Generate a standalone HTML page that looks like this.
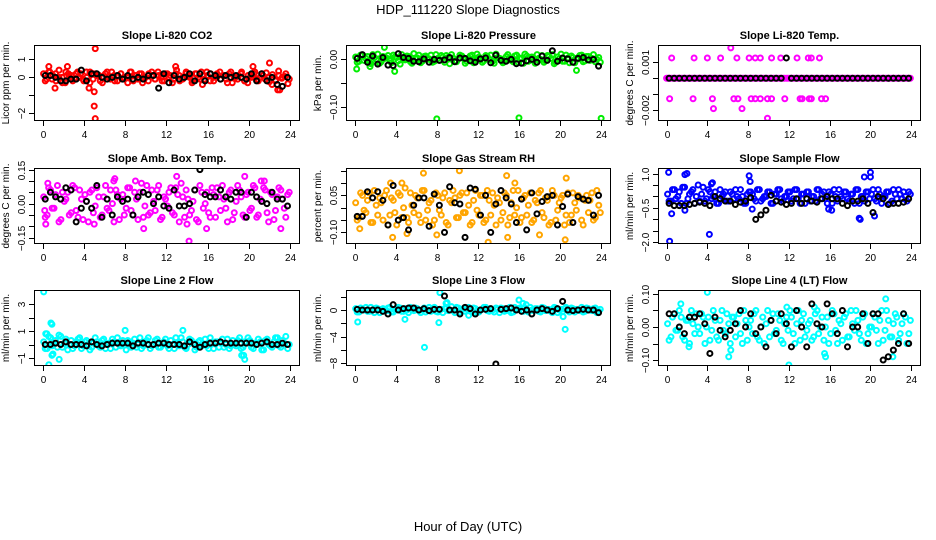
<!DOCTYPE html>
<html><head><meta charset="utf-8"><title>HDP_111220 Slope Diagnostics</title>
<style>
html,body{margin:0;padding:0;background:#fff;}
svg{display:block;font-family:"Liberation Sans",Arial,sans-serif;}
</style></head>
<body>
<svg id="chart" width="936" height="540" viewBox="0 0 936 540" xmlns="http://www.w3.org/2000/svg">
<rect width="936" height="540" fill="#fff"/>
<text x="468" y="14" text-anchor="middle" font-size="13">HDP_111220  Slope Diagnostics</text>
<text x="468" y="531" text-anchor="middle" font-size="13">Hour of Day (UTC)</text>
</svg>
<script>
const xTicks = [0,4,8,12,16,20,24];

// ---- Panel 1: CO2 ----
const co2Col = [0.2,-0.1,0.3,0.1,-0.2,0.4,0.0,-0.3,0.2,0.1,-0.1,0.3,0.2,-0.2,0.0,0.3,-0.1,0.2,0.1,-0.3,0.2,0.0,0.3,-0.2,0.1,0.2,-0.1,0.0,0.3,-0.2,0.1,0.2,-0.3,0.0,0.2,0.1,-0.1,0.3,0.0,-0.2,0.2,0.1,-0.1,0.4,-0.2,0.0,0.2,0.1,-0.3,0.2,0.0,0.3,-0.1,0.1,0.2,-0.2,0.0,0.3,0.1,-0.1,0.2,-0.3,0.0,0.1,0.3,-0.2,-0.3,0.1,0.2,-0.1,0.0,0.1,0.25,-0.25,0.15,-0.15,0.35,-0.05,0.05,-0.35];
const co2Col2 = [-0.2,0.3,-0.1,0.2,0.0,-0.3,0.3,0.1,-0.2,0.2,0.0,-0.1,0.3,-0.3,0.2,0.1,-0.2,0.0,0.3,-0.1,0.1,-0.2,0.2,0.0,-0.3,0.3,0.1,-0.1,0.2,0.0,-0.2,0.3,-0.1,0.1,-0.2,0.2,0.0,-0.3,0.2,0.1,-0.1,0.3,0.0,-0.2,0.2,-0.1,0.1,0.3,-0.2,0.0,0.2,-0.1,0.1,-0.3,0.3,0.0,-0.1,0.2,-0.2,0.1,0.0,0.3,-0.2,0.2,-0.1,0.0,-0.4,-0.2,0.1,0.0,0.2,-0.1];
const co2OutX = [5.1,5.0,5.0,5.1,2.4,0.6,12.9,20.4,22.0,1.2,4.5,23.0,22.8,15.5];
const co2OutY = [1.6,-0.8,-1.6,-2.3,0.6,0.6,0.6,0.6,0.8,-0.6,-0.6,-0.7,-0.7,-0.4];
const co2Blk = [0.1,0.1,0.0,-0.2,-0.2,-0.1,-0.1,0.4,-0.2,0.2,0.2,0.0,-0.1,0.0,0.1,-0.1,0.1,-0.1,0.0,-0.1,0.1,0.1,-0.6,0.2,-0.3,0.1,-0.1,0.0,0.2,-0.2,0.2,-0.2,0.2,0.1,-0.1,0.1,0.0,0.1,0.0,-0.1,0.2,-0.2,0.2,-0.2,0.0,-0.4,-0.5,0.0];

// ---- Panel 2: Pressure ----
const presCol = [0.005,-0.004,0.008,0.002,-0.006,0.010,0.000,-0.008,0.006,0.003,-0.002,0.009,0.004,-0.010,0.001,0.007,-0.005,0.012,0.003,-0.007,0.006,0.000,0.009,-0.004,0.002,0.008,-0.006,0.004,0.010,-0.003,0.001,0.007,-0.008,0.003,0.009,-0.002,0.005,-0.006,0.008,0.000,-0.004,0.011,0.002,-0.007,0.006,0.003,-0.005,0.009,0.001,-0.008,0.007,0.004,-0.003,0.010,0.000,-0.006,0.008,0.002,-0.009,0.005,0.011,-0.004,0.003,0.007,-0.007,0.001,0.009,-0.003,0.006,0.002,-0.005,0.004];
const presCol2 = [-0.006,0.009,-0.002,0.006,-0.009,0.004,0.011,-0.005,0.002,0.008,-0.007,0.005,-0.003,0.010,-0.001,0.006,-0.008,0.003,0.009,-0.004,0.007,0.001,-0.006,0.010,-0.002,0.005,0.008,-0.009,0.003,-0.005,0.009,0.002,-0.004,0.007,-0.007,0.011,0.000,-0.003,0.006,0.009,-0.008,0.004,0.001,-0.005,0.010,-0.002,0.007,-0.006,0.003,0.011,-0.004,0.005,-0.008,0.002,0.008,-0.003,0.006,0.010,-0.006,0.001,-0.004,0.009,-0.007,0.004,0.002,0.008,-0.005,0.006,-0.002,0.010,0.000,-0.006];
const presOutX = [8.0,16.0,24.0,2.9,3.9,0.2,21.6,1.5];
const presOutY = [-0.124,-0.122,-0.123,0.025,-0.025,-0.02,-0.023,-0.015];
const presBlk = [0.002,0.010,-0.006,0.007,-0.010,0.004,-0.012,-0.013,0.012,0.004,0.002,-0.004,-0.005,0.001,-0.006,0.000,-0.002,-0.001,0.004,-0.005,0.003,0.002,-0.003,-0.006,0.001,0.003,-0.007,0.009,-0.002,-0.004,0.000,-0.009,-0.008,-0.003,0.000,-0.006,0.007,-0.002,0.018,-0.004,0.003,0.001,-0.006,0.002,0.004,-0.001,0.000,-0.014];

// ---- Panel 3: Li-820 Temp ----
const tmpCol = [0,0,0,0,0,0,0,0,0,0,0,0,0,0,0,0,0,0,0,0,0,0,0,0,0,0,0,0,0,0,0,0,0,0,0,0,0,0,0,0,0,0,0,0,0,0,0,0,0,0,0,0,0,0,0,0,0,0,0,0,0,0,0,0,0,0,0,0,0,0,0,0];
const tmpOutX = [0.5,2.7,4.0,5.3,6.9,8.1,8.7,9.2,10.3,11.2,12.8,13.9,14.2,15.0,6.3,0.3,2.6,4.5,6.6,7.0,8.3,8.7,9.2,9.9,10.3,11.6,13.1,13.3,14.0,14.2,15.2,15.6,4.6,7.4,9.9,0.0];
const tmpOutY = [0.00127,0.00127,0.00127,0.00127,0.00127,0.00127,0.00127,0.00127,0.00127,0.00127,0.00127,0.00127,0.00127,0.00127,0.0019,-0.00128,-0.00128,-0.00128,-0.00128,-0.00128,-0.00128,-0.00128,-0.00128,-0.00128,-0.00128,-0.00128,-0.00128,-0.00128,-0.00128,-0.00128,-0.00128,-0.00128,-0.0019,-0.0019,-0.0025,0];
const tmpBlk = [0,0,0,0,0,0,0,0,0,0,0,0,0,0,0,0,0,0,0,0,0,0,0,0.00127,0,0,0,0,0,0,0,0,0,0,0,0,0,0,0,0,0,0,0,0,0,0,0,0];

// ---- Panel 4: Amb Box Temp ----
const ambCol = [0.03,-0.05,0.06,-0.02,0.08,-0.07,0.01,0.05,-0.04,0.07,-0.06,0.02,0.04,-0.08,0.06,-0.01,0.03,-0.05,0.08,-0.03,0.00,0.06,-0.07,0.04,-0.02,0.07,-0.05,0.02,0.05,-0.06,0.08,-0.04,0.01,0.06,-0.07,0.03,-0.01,0.07,-0.05,0.04,0.09,-0.06,0.02,-0.03,0.06,-0.08,0.05,0.00,-0.04,0.07,-0.06,0.03,0.08,-0.02,0.05,-0.07,0.01,0.06,-0.05,0.04,-0.03,0.08,-0.06,0.02,0.07,-0.04,0.05,-0.07,0.03,0.06,-0.02,0.04];
const ambCol2 = [-0.06,0.07,-0.02,0.04,-0.08,0.05,0.02,-0.05,0.08,-0.03,0.06,-0.07,0.01,0.05,-0.04,0.07,-0.06,0.03,-0.02,0.06,-0.08,0.04,0.02,-0.05,0.07,-0.03,0.05,-0.07,0.09,-0.01,-0.05,0.06,-0.03,0.08,-0.06,0.02,0.05,-0.04,0.07,-0.08,0.03,0.06,-0.05,0.01,-0.07,0.08,-0.02,0.05,-0.06,0.04,0.07,-0.03,0.02,-0.08,0.06,-0.04,0.08,0.03,-0.06,0.05,-0.02,0.07,-0.05,0.01,0.06,-0.08,0.04,-0.03,0.07,0.02,-0.06,0.05];
const ambOutX = [0.5,6.9,7.0,9.0,13.0,19.6,21.2,21.5,0.3,15.9,23.1,9.8,5.0,14.0,14.2,0.2];
const ambOutY = [0.09,0.10,0.11,0.10,0.12,0.12,0.10,0.10,-0.09,-0.11,-0.11,-0.11,-0.09,-0.09,-0.165,-0.03];
const ambBlk = [0.02,0.05,0.03,0.02,0.07,0.06,-0.08,-0.02,0.01,-0.02,0.08,-0.06,0.02,-0.05,0.03,0.01,0.02,-0.05,0.03,0.05,0.04,-0.00,0.03,-0.01,-0.02,0.06,-0.01,-0.01,0.00,0.06,0.15,0.04,0.03,0.03,0.06,0.03,0.02,0.05,0.05,-0.06,0.05,0.03,0.01,0.00,0.05,0.02,0.02,-0.01];

// ---- Panel 5: Gas Stream RH ----
const rhCol = [0.02,-0.04,0.05,-0.02,0.06,-0.06,0.01,0.04,-0.05,0.07,-0.03,0.03,-0.07,0.05,0.00,-0.04,0.06,-0.02,0.04,-0.06,0.07,-0.01,0.03,-0.05,0.05,-0.03,0.06,-0.07,0.02,0.04,-0.04,0.06,-0.02,0.01,-0.06,0.07,-0.03,0.05,-0.05,0.03,0.06,-0.07,0.02,-0.02,0.05,-0.04,0.07,0.00,-0.06,0.04,-0.03,0.06,-0.05,0.02,0.07,-0.04,0.03,-0.06,0.05,-0.01,0.04,-0.07,0.06,-0.03,0.02,0.05,-0.05,0.03,-0.02,0.06,-0.04,0.01];
const rhCol2 = [-0.05,0.06,-0.01,0.03,-0.06,0.07,-0.03,0.02,0.05,-0.07,0.04,-0.02,0.06,-0.04,0.08,-0.06,0.01,0.05,-0.03,0.07,-0.05,0.02,-0.07,0.06,-0.01,0.04,-0.06,0.03,0.07,-0.04,0.05,-0.02,0.06,-0.07,0.03,-0.01,0.05,-0.06,0.07,-0.03,0.01,0.04,-0.05,0.06,-0.07,0.02,-0.03,0.07,-0.04,0.05,0.01,-0.06,0.03,0.06,-0.02,0.04,-0.07,0.07,-0.05,0.02,0.05,-0.03,-0.06,0.06,-0.01,0.04,-0.07,0.05,0.03,-0.05,0.07,-0.02];
const rhOutX = [10.2,6.7,14.8,20.6,3.5,13.0,20.5,14.9,3.7,0.5,18.0,5.1,8.0,4.6,15.6];
const rhOutY = [0.15,0.14,0.13,0.12,0.10,-0.14,-0.13,-0.12,-0.12,-0.085,-0.11,-0.105,-0.11,0.10,0.10];
const rhBlk = [-0.035,-0.035,0.065,0.04,0.065,0.03,-0.07,0.09,-0.05,-0.04,-0.09,0.01,0.04,0.04,-0.075,0.055,0.01,-0.1,0.085,0.02,0.015,-0.12,0.08,0.075,-0.03,0.05,-0.1,0.015,0.07,0.04,0.015,-0.06,0.035,-0.09,0.06,-0.025,0.025,0.045,0.05,-0.07,0.005,0.055,-0.06,0.045,0.035,0.03,-0.03,0.05];

// ---- Panel 6: Sample Flow ----
const sfCol = [0.1,-0.2,0.3,0.0,-0.3,0.4,-0.1,0.2,-0.3,0.5,0.1,-0.2,0.3,-0.1,0.2,-0.3,0.0,0.2,-0.2,0.1,0.3,-0.1,0.0,-0.3,0.2,0.1,-0.2,0.3,-0.1,0.0,0.2,-0.3,0.1,0.3,-0.2,0.0,0.2,-0.1,0.3,-0.3,0.1,0.2,-0.2,0.0,0.3,-0.1,0.2,-0.3,0.1,0.3,-0.2,0.0,0.2,-0.1,0.1,-0.3,0.3,0.0,-0.2,0.2,0.1,-0.1,0.3,-0.3,0.0,0.2,-0.2,0.1,0.3,-0.1,0.0,0.2];
const sfCol2 = [-0.2,0.3,-0.1,0.2,0.4,-0.3,0.1,0.3,0.0,-0.2,0.4,-0.1,0.2,0.0,-0.3,0.3,0.1,-0.2,0.2,-0.1,0.0,0.3,-0.3,0.1,0.2,-0.1,0.3,-0.2,0.0,0.2,-0.3,0.1,0.3,-0.1,0.0,0.2,-0.2,0.3,-0.1,0.1,-0.3,0.2,0.0,-0.2,0.3,0.1,-0.1,0.2,-0.3,0.0,0.3,-0.1,0.2,-0.2,0.1,0.3,-0.3,0.0,0.2,-0.1,0.3,-0.2,0.1,0.0,0.2,-0.3,0.3,-0.1,0.1,0.2,-0.2,0.1];
const sfOutX = [0.2,2.0,1.8,20.0,20.0,19.4,8.1,0.3,0.5,4.2,18.9,19.0,20.4,8.4,1.8,15.9,16.2,4.5,4.4,8.2];
const sfOutY = [1.05,1.0,0.95,1.05,0.85,0.85,0.9,-1.95,-0.75,-1.65,-0.95,-1.0,-0.85,-0.55,-0.6,-0.55,-0.6,0.6,0.55,0.65];
const sfBlk = [-0.3,-0.4,-0.4,-0.4,-0.35,-0.3,-0.25,-0.3,-0.4,0.0,-0.1,-0.2,-0.2,-0.35,-0.25,-0.2,-0.05,-1.0,-0.8,-0.6,0.05,-0.2,-0.25,-0.35,-0.3,-0.1,-0.3,-0.1,-0.2,-0.25,-0.1,0.0,-0.1,-0.1,-0.3,-0.4,-0.2,-0.2,-0.1,-0.3,-0.7,0.0,-0.1,-0.35,-0.3,-0.3,-0.25,-0.1];

// ---- Panel 7: Line 2 Flow ----
const l2Col = [0.2,-0.3,0.5,0.0,-0.2,0.6,0.1,-0.4,0.3,-0.1,0.4,-0.3,0.2,0.0,-0.2,0.5,-0.1,0.3,-0.3,0.1,0.4,-0.2,0.0,0.3,-0.4,0.2,0.1,-0.2,0.5,-0.1,0.3,-0.3,0.0,0.4,-0.2,0.2,-0.1,0.3,-0.3,0.1,0.5,-0.2,0.0,0.3,-0.4,0.2,-0.1,0.4,-0.3,0.1,0.2,-0.2,0.4,0.0,-0.3,0.3,-0.1,0.5,-0.2,0.1,0.3,-0.3,0.0,0.2,-0.4,0.4,-0.1,0.2,0.5,-0.2,0.1,-0.3];
const l2Col2 = [-0.3,0.6,-0.1,0.3,0.7,-0.2,0.4,0.0,-0.3,0.2,0.5,-0.1,0.3,-0.4,0.1,0.2,-0.2,0.4,0.0,-0.3,0.2,0.5,-0.1,0.1,0.3,-0.2,0.4,0.0,-0.3,0.2,0.5,-0.1,0.3,-0.2,0.1,0.4,-0.3,0.0,0.5,-0.1,0.2,-0.3,0.4,0.1,-0.2,0.3,0.0,-0.1,0.5,-0.3,0.2,0.1,-0.2,0.4,-0.1,0.0,0.3,-0.3,0.2,0.5,-0.2,0.1,0.4,-0.4,0.3,0.0,-0.2,0.5,-0.1,0.3,0.6,0.0];
const l2OutX = [0.1,0.8,0.9,0.6,1.6,1.0,0.9,8.0,13.6,19.3,19.6,19.5,0.3,0.4];
const l2OutY = [3.9,1.6,1.5,-1.5,-1.1,-0.7,-0.8,1.05,1.05,-0.8,-1.1,-0.8,0.8,0.8];
const l2Blk = [0.0,0.0,0.1,0.0,0.2,0.0,0.0,0.0,-0.1,0.2,0.0,-0.1,0.0,0.1,0.1,0.1,0.1,-0.1,0.1,0.1,0.0,0.0,0.1,0.1,0.0,0.0,0.0,-0.1,0.2,0.0,-0.2,0.0,0.1,0.1,0.2,0.1,0.1,0.1,0.1,0.1,0.1,0.0,0.1,0.2,0.0,0.0,0.1,0.0];

// ---- Panel 8: Line 3 Flow ----
const l3Col = [0.2,-0.3,0.1,0.4,-0.2,0.0,0.3,-0.4,0.2,-0.1,0.4,-0.3,0.1,0.3,-0.2,0.0,0.4,-0.1,0.2,-0.4,0.3,0.0,-0.2,0.4,-0.3,0.1,0.2,-0.1,0.5,-0.4,0.3,0.0,-0.2,0.4,-0.1,0.2,-0.3,0.1,0.4,-0.2,0.0,0.3,-0.4,0.2,-0.1,0.4,-0.3,0.1,0.3,-0.2,0.0,0.4,-0.1,0.2,-0.3,0.3,0.0,-0.2,0.4,-0.4,0.1,0.2,-0.1,0.3,-0.3,0.0,0.4,-0.2,0.2,-0.1,0.3,-0.2];
const l3Col2 = [-0.3,0.3,0.0,-0.2,0.4,-0.4,0.2,0.1,-0.1,0.3,-0.3,0.0,0.4,-0.2,0.2,-0.4,0.1,0.3,-0.1,0.0,-0.3,0.4,0.2,-0.2,0.1,-0.4,0.3,0.0,-0.1,0.4,-0.3,0.2,0.1,-0.2,0.3,-0.4,0.0,0.4,-0.1,0.2,-0.3,0.1,0.3,-0.2,0.0,-0.4,0.4,0.2,-0.1,0.3,-0.3,0.0,0.2,-0.2,0.4,-0.1,0.1,-0.4,0.3,0.0,-0.2,0.4,-0.3,0.2,0.1,-0.1,-0.3,0.3,0.0,0.2,-0.4,0.1];
const l3OutX = [8.3,8.9,16.0,16.4,0.3,4.9,6.8,8.2,20.3,20.5,11.1,9.0,16.7];
const l3OutY = [2.6,1.0,1.5,1.0,-1.8,-1.4,-5.6,-1.9,-1.0,-2.9,-0.8,1.1,0.8];
const l3Blk = [0.1,0.0,0.0,0.0,0.0,-0.2,-0.6,0.8,0.0,0.2,0.3,0.3,0.0,0.2,-0.1,0.1,0.1,2.1,0.0,0.0,-0.6,0.4,0.2,-0.6,0.0,0.1,0.2,-8.1,0.1,0.2,0.3,0.0,-0.2,0.0,-0.6,0.0,0.2,0.0,-0.2,0.2,1.3,0.0,-0.1,0.0,0.1,0.0,0.0,-0.4];

// ---- Panel 9: Line 4 (LT) Flow ----
const l4Col = [0.01,-0.03,0.04,-0.01,0.03,-0.04,0.02,0.05,-0.02,0.00,0.04,-0.05,0.03,-0.01,0.02,-0.04,0.05,-0.02,0.01,0.03,-0.03,0.04,-0.05,0.02,0.00,-0.02,0.05,-0.04,0.03,0.01,-0.03,0.04,-0.01,0.02,-0.05,0.03,0.05,-0.02,0.01,-0.04,0.04,-0.01,0.02,-0.03,0.05,0.00,-0.04,0.03,-0.02,0.04,-0.05,0.01,0.03,-0.03,0.05,-0.01,0.02,-0.04,0.04,-0.02,0.00,0.03,-0.05,0.05,-0.01,0.02,-0.03,0.04,-0.04,0.01,0.03,-0.02];
const l4Col2 = [-0.04,0.03,-0.01,0.05,-0.03,0.02,-0.05,0.01,0.04,-0.02,0.03,0.00,-0.04,0.05,-0.03,0.02,-0.01,0.04,-0.05,0.03,0.01,-0.02,0.05,-0.04,0.02,0.04,-0.03,0.00,-0.05,0.05,0.02,-0.02,0.04,-0.04,0.01,-0.01,0.03,-0.05,0.05,0.02,-0.03,0.01,-0.04,0.04,-0.02,0.03,0.00,-0.05,0.05,-0.01,0.02,-0.04,0.04,-0.03,0.01,0.05,-0.02,0.03,-0.05,0.00,0.04,-0.01,0.02,-0.04,0.05,-0.03,0.01,0.03,-0.02,0.04,-0.05,0.02];
const l4OutX = [4.0,21.5,1.4,12.0,6.1,15.6,22.2,2.2,14.5,6.3,15.5,11.8];
const l4OutY = [0.105,0.085,0.07,-0.115,-0.09,-0.09,-0.09,-0.06,0.06,-0.07,-0.08,0.06];
const l4Blk = [0.04,0.04,0.00,-0.02,0.03,0.03,0.04,0.01,-0.08,0.03,-0.01,-0.03,-0.01,0.01,0.05,0.00,0.04,-0.02,0.00,-0.06,0.02,-0.02,0.04,0.01,-0.06,0.05,0.00,-0.06,0.07,0.01,0.00,0.07,0.04,-0.02,0.05,-0.06,0.00,0.00,0.04,-0.05,0.04,0.04,-0.10,-0.09,-0.07,-0.05,0.04,-0.05];

const panels = [
 {name:'co2',title:'Slope Li-820 CO2',ylab:'Licor ppm per min.',col:0,row:0,ymin:-2.43,ymax:1.8,ticks:[-2,-1,0,1],labels:['\u22122','','0','1'],color:'#ff0000',c1:co2Col,c2:co2Col2,ox:co2OutX,oy:co2OutY,blk:co2Blk},
 {name:'pressure',title:'Slope Li-820 Pressure',ylab:'kPa per min.',col:1,row:0,ymin:-0.1285,ymax:0.030,ticks:[-0.10,-0.05,0],labels:['\u22120.10','','0.00'],color:'#00ee00',c1:presCol,c2:presCol2,ox:presOutX,oy:presOutY,blk:presBlk},
 {name:'li820-temp',title:'Slope Li-820 Temp.',ylab:'degrees C per min.',col:2,row:0,ymin:-0.00267,ymax:0.00208,ticks:[-0.002,-0.001,0,0.001],labels:['\u22120.002','','','0.001'],color:'#ff00ff',c1:tmpCol,c2:tmpCol,ox:tmpOutX,oy:tmpOutY,blk:tmpBlk},
 {name:'amb-temp',title:'Slope Amb. Box Temp.',ylab:'degrees C per min.',col:0,row:1,ymin:-0.1775,ymax:0.157,ticks:[-0.15,-0.10,-0.05,0,0.05,0.10,0.15],labels:['\u22120.15','','','0.00','','','0.15'],color:'#ff00ff',c1:ambCol,c2:ambCol2,ox:ambOutX,oy:ambOutY,blk:ambBlk},
 {name:'gas-rh',title:'Slope Gas Stream RH',ylab:'percent per min.',col:1,row:1,ymin:-0.147,ymax:0.161,ticks:[-0.10,-0.05,0,0.05,0.10,0.15],labels:['\u22120.10','','','0.05','',''],color:'#ffa500',c1:rhCol,c2:rhCol2,ox:rhOutX,oy:rhOutY,blk:rhBlk},
 {name:'sample-flow',title:'Slope Sample Flow',ylab:'ml/min per min.',col:2,row:1,ymin:-2.07,ymax:1.24,ticks:[-2,-1.5,-1,-0.5,0,0.5,1],labels:['\u22122.0','','','\u22120.5','','','1.0'],color:'#0000ff',c1:sfCol,c2:sfCol2,ox:sfOutX,oy:sfOutY,blk:sfBlk},
 {name:'line2-flow',title:'Slope Line 2 Flow',ylab:'ml/min per min.',col:0,row:2,ymin:-1.59,ymax:4.04,ticks:[-1,0,1,2,3],labels:['\u22121','','1','','3'],color:'#00ffff',c1:l2Col,c2:l2Col2,ox:l2OutX,oy:l2OutY,blk:l2Blk},
 {name:'line3-flow',title:'Slope Line 3 Flow',ylab:'ml/min per min.',col:1,row:2,ymin:-8.4,ymax:3.0,ticks:[-8,-6,-4,-2,0,2],labels:['\u22128','','\u22124','','0',''],color:'#00ffff',c1:l3Col,c2:l3Col2,ox:l3OutX,oy:l3OutY,blk:l3Blk},
 {name:'line4-flow',title:'Slope Line 4 (LT) Flow',ylab:'ml/min per min.',col:2,row:2,ymin:-0.118,ymax:0.112,ticks:[-0.10,-0.05,0,0.05,0.10],labels:['\u22120.10','','0.00','','0.10'],color:'#00ffff',c1:l4Col,c2:l4Col2,ox:l4OutX,oy:l4OutY,blk:l4Blk}
];

const colX0=[34,346,658], colX1=[300,611,921];
const rowY0=[45,168,290], rowY1=[121,244,366];
const XMIN=-0.84, XMAX=24.96;
const NS='http://www.w3.org/2000/svg';
const svg=document.getElementById('chart');
function mk(tag,attrs,parent){const e=document.createElementNS(NS,tag);for(const k in attrs)e.setAttribute(k,attrs[k]);(parent||svg).appendChild(e);return e;}

panels.forEach(p=>{
  const x0=colX0[p.col],x1=colX1[p.col],y0=rowY0[p.row],y1=rowY1[p.row];
  const sx=h=>x0+(h-XMIN)/(XMAX-XMIN)*(x1-x0);
  const sy=v=>y1-(v-p.ymin)/(p.ymax-p.ymin)*(y1-y0);
  const g=mk('g',{});
  
  
  const clip=mk('clipPath',{id:'clip-'+p.name},g);
  mk('rect',{x:x0,y:y0,width:x1-x0,height:y1-y0},clip);
  const t=mk('text',{x:(x0+x1)/2,y:y0-6,'text-anchor':'middle','font-size':'11','font-weight':'bold'},g);
  t.textContent=p.title;
  
  
  const yl=mk('text',{x:0,y:0,'text-anchor':'middle','font-size':'10',transform:`translate(${x0-25},${(y0+y1)/2}) rotate(-90)`},g);
  yl.textContent=p.ylab;
  
  
  const pts=mk('g',{'clip-path':`url(#clip-${p.name})`,fill:'none','stroke-width':'2'},g);
  
  
  const drawSeries=(vals,offset,color,nm)=>{
    const n=vals.length;
    vals.forEach((v,i)=>{
      const h=(i+offset)*24/n;
      const c=mk('circle',{cx:sx(h),cy:sy(v),r:2.5,stroke:color},pts);
      
      
    });
  };
  drawSeries(p.c1,0.3,p.color,'point-'+p.name);
  drawSeries(p.c2,0.75,p.color,'point-'+p.name);
  p.ox.forEach((h,i)=>{
    const c=mk('circle',{cx:sx(h),cy:sy(p.oy[i]),r:2.5,stroke:p.color},pts);
    
    
  });
  drawSeries(p.blk,0.5,'#000','mean-point-'+p.name);
  const b=mk('rect',{x:x0+0.5,y:y0+0.5,width:x1-x0-1,height:y1-y0-1,fill:'none',stroke:'#000','stroke-width':'1'},g);
  
  
  const xa=mk('g',{},g);
  
  
  xTicks.forEach(h=>{
    const x=Math.round(sx(h))+0.5;
    mk('line',{x1:x,x2:x,y1:y1,y2:y1+5,stroke:'#000'},xa);
    const tl=mk('text',{x:x,y:y1+17,'text-anchor':'middle','font-size':'10'},xa);
    tl.textContent=String(h);
    
    
  });
  const ya=mk('g',{},g);
  
  
  p.ticks.forEach((v,i)=>{
    const y=Math.round(sy(v))+0.5;
    mk('line',{x1:x0-5,x2:x0,y1:y,y2:y,stroke:'#000'},ya);
    if(p.labels[i]){
      const tl=mk('text',{x:0,y:0,'text-anchor':'middle','font-size':'10',transform:`translate(${x0-9},${y}) rotate(-90)`},ya);
      tl.textContent=p.labels[i];
      
      
    }
  });
});
</script>
</body></html>
